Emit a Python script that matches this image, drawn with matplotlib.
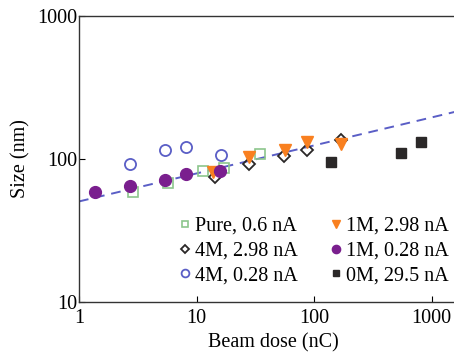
import numpy as np
import matplotlib
matplotlib.use("Agg")
import matplotlib.pyplot as plt

plt.rcParams['font.family'] = ['Liberation Serif', 'DejaVu Serif']
plt.rcParams['mathtext.fontset'] = 'stix'

# data (beam dose in nC, size in nm)
pure_x = [2.9, 5.7, 11.4, 17.0, 34.4]
pure_y = [58.4, 68.3, 82.8, 86.0, 107.7]

m4_hi_x = [14.4, 28.1, 55.7, 86.1, 168]
m4_hi_y = [74.8, 91.7, 104.3, 116, 136.4]

m4_lo_x = [2.7, 5.4, 8.1, 16.1]
m4_lo_y = [91.7, 116, 120.6, 107]

m1_hi_x = [13.7, 27.7, 56.8, 86.1, 168]
m1_hi_y = [81.5, 104, 116, 130.6, 128]

m1_lo_x = [1.37, 2.71, 5.39, 8.07, 15.9]
m1_lo_y = [58.8, 65.0, 71.7, 78.9, 82.8]

m0_x = [138, 543, 807]
m0_y = [95.3, 110.6, 131.5]

# power-law fit line: size = A * dose^b
fit_A = 50.5
fit_b = 0.196

fig = plt.figure(figsize=(4.54, 3.53), dpi=100)
ax = fig.add_axes([0.174, 0.1445, 0.855, 0.810])

xx = np.logspace(0, np.log10(2000), 100)
ax.plot(xx, fit_A * xx ** fit_b, '--', color='#5a5ec6', lw=1.4, dashes=(5, 3.5), zorder=1)

ax.plot(pure_x, pure_y, 's', ms=6.5, mfc='none', mec='#8cc68c', mew=1.2, ls='none', label='Pure, 0.6 nA')
ax.plot(m4_hi_x, m4_hi_y, 'D', ms=6.5, mfc='none', mec='#2a2727', mew=1.3, ls='none', label='4M, 2.98 nA')
ax.plot(m4_lo_x, m4_lo_y, 'o', ms=8, mfc='none', mec='#5a5ec6', mew=1.3, ls='none', label='4M, 0.28 nA')
ax.plot(m1_hi_x, m1_hi_y, 'v', ms=9, color='#f98020', ls='none', label='1M, 2.98 nA')
ax.plot(m1_lo_x, m1_lo_y, 'o', ms=8.5, color='#7a1f8e', ls='none', label='1M, 0.28 nA')
ax.plot(m0_x, m0_y, 's', ms=6.5, color='#2b2828', ls='none', label='0M, 29.5 nA')

ax.set_xscale('log')
ax.set_yscale('log')
ax.set_xlim(1, 2000)
ax.set_ylim(10, 1000)
ax.set_xticks([1, 10, 100, 1000])
ax.set_xticklabels(['1', '10', '100', '1000'])
ax.set_yticks([10, 100, 1000])
ax.set_yticklabels(['10', '100', '1000'])
ax.minorticks_off()
ax.tick_params(direction='in', length=4, width=0.8, labelsize=14.5)
ax.tick_params(axis='x', pad=5)
ax.tick_params(axis='y', pad=1)
for s in ax.spines.values():
    s.set_linewidth(1.0)
    s.set_color('#333333')

ax.set_xlabel('Beam dose (nC)', fontsize=14.5, labelpad=4)
ax.set_ylabel('Size (nm)', fontsize=14.5, labelpad=5)

ax.legend(ncol=2, loc='lower left', bbox_to_anchor=(0.237, 0.03), frameon=False,
          fontsize=14.5, markerscale=0.7, handlelength=0.6, handletextpad=0.2,
          columnspacing=1.6, labelspacing=0.28, borderaxespad=0)

fig.savefig('out.png', dpi=100)
